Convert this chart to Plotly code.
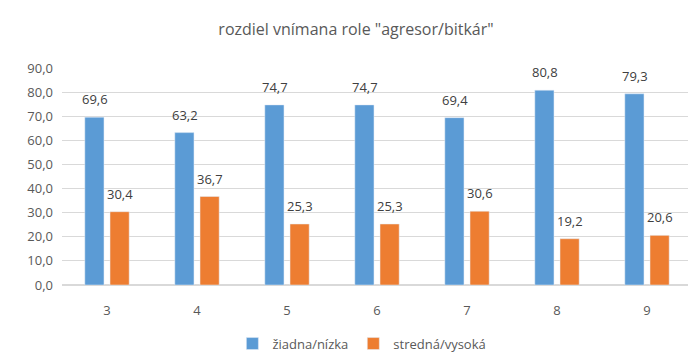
import plotly.graph_objects as go

categories = ["3", "4", "5", "6", "7", "8", "9"]
nizka = [69.6, 63.2, 74.7, 74.7, 69.4, 80.8, 79.3]
vysoka = [30.4, 36.7, 25.3, 25.3, 30.6, 19.2, 20.6]
series_names = ["žiadna/nízka", "stredná/vysoká"]
title_text = 'rozdiel vnímana role "agresor/bitkár"'
tick_vals = [0, 10, 20, 30, 40, 50, 60, 70, 80, 90]

def fmt(v):
    return f"{v:.1f}".replace(".", ",")

font_family = "Open Sans, Noto Sans, sans-serif"
text_color = "#595959"
label_color = "#404040"

fig = go.Figure()
fig.add_trace(go.Bar(x=categories, y=nizka, name=series_names[0], marker_color="#5B9BD5"))
fig.add_trace(go.Bar(x=categories, y=vysoka, name=series_names[1], marker_color="#ED7D31"))

annotations = []
for vals, shift in ((nizka, -12.5), (vysoka, 12.5)):
    for i, v in enumerate(vals):
        annotations.append(dict(
            x=i, y=v, xref="x", yref="y", text=fmt(v), showarrow=False,
            xshift=shift, yshift=18, yanchor="middle",
            font=dict(size=13, color=label_color, family=font_family),
        ))

fig.update_layout(
    width=696, height=362,
    margin=dict(l=54, r=12, t=60, b=80),
    paper_bgcolor="white", plot_bgcolor="white",
    barmode="group", bargap=0.44, bargroupgap=0.24,
    title=dict(text=title_text, x=0.5, xanchor="center", y=0.94, yanchor="middle",
               font=dict(size=16, color=text_color, family=font_family)),
    font=dict(family=font_family, color=text_color, size=13),
    showlegend=True,
    legend=dict(orientation="h", x=0.476, xanchor="center", y=-0.27, yanchor="middle",
                font=dict(size=13, color=text_color), itemwidth=30,
                traceorder="normal"),
    annotations=annotations,
)
fig.update_yaxes(
    range=[0, 90], tickvals=tick_vals, ticktext=[fmt(v) for v in tick_vals],
    showgrid=True, gridcolor="#D9D9D9", gridwidth=1, zeroline=True,
    zerolinecolor="#D9D9D9", showline=False, ticks="", ticklabelstandoff=8,
    tickfont=dict(size=13, color=text_color),
)
fig.update_xaxes(
    type="category",
    showgrid=False, showline=True, linecolor="#D9D9D9", ticks="",
    tickfont=dict(size=13, color=text_color), ticklabelstandoff=13,
)

fig.write_html("out.html")
